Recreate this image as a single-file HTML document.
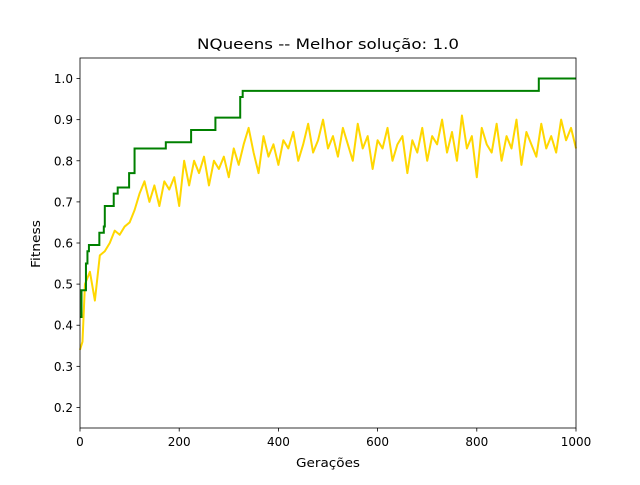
<!DOCTYPE html>
<html><head><meta charset="utf-8"><style>
body{margin:0;background:#fff;font-family:"Liberation Sans","DejaVu Sans",sans-serif}
svg text{font-family:"DejaVu Sans","Liberation Sans",sans-serif;fill:#000}
</style></head><body>
<svg id="chart" width="640" height="480" viewBox="0 0 640 480">
<rect width="640" height="480" fill="#fff"/>
<text x="328" y="49" font-size="14.4" textLength="262" lengthAdjust="spacingAndGlyphs" text-anchor="middle">NQueens -- Melhor solução: 1.0</text>
<g id="grid"></g>
<g id="series"></g>
<rect x="80" y="58" width="496" height="370" fill="none" stroke="#000" stroke-width="0.8"/>
<g id="ticks"></g>
<text x="328" y="467" font-size="12" textLength="64" lengthAdjust="spacingAndGlyphs" text-anchor="middle">Gerações</text>
<text transform="translate(40,244) rotate(-90)" font-size="12" textLength="48" lengthAdjust="spacingAndGlyphs" text-anchor="middle">Fitness</text>
</svg>
<script>
const bestGens=[0,3,12,15,18,39,48,50,68,76,99,110,173,224,273,323,328,925,1000];
const bestVals=[0.42,0.485,0.55,0.58,0.595,0.625,0.64,0.69,0.72,0.735,0.77,0.83,0.845,0.875,0.905,0.955,0.97,1.0,1.0];
const avgGens=[0,5,10,20,30,40,50,60,70,80,90,100,110,120,130,140,150,160,170,180,190,200,210,220,230,240,250,260,270,280,290,300,310,320,330,340,350,360,370,380,390,400,410,420,430,440,450,460,470,480,490,500,510,520,530,540,550,560,570,580,590,600,610,620,630,640,650,660,670,680,690,700,710,720,730,740,750,760,770,780,790,800,810,820,830,840,850,860,870,880,890,900,910,920,930,940,950,960,970,980,990,1000];
const avgVals=[0.34,0.36,0.5,0.53,0.46,0.57,0.58,0.6,0.63,0.62,0.64,0.65,0.68,0.72,0.75,0.7,0.74,0.69,0.75,0.73,0.76,0.69,0.8,0.74,0.8,0.77,0.81,0.74,0.8,0.78,0.81,0.76,0.83,0.79,0.84,0.88,0.82,0.77,0.86,0.81,0.84,0.79,0.85,0.83,0.87,0.8,0.84,0.89,0.82,0.85,0.9,0.83,0.86,0.81,0.88,0.84,0.8,0.89,0.83,0.86,0.78,0.85,0.83,0.88,0.8,0.84,0.86,0.77,0.85,0.82,0.88,0.8,0.86,0.84,0.9,0.82,0.87,0.8,0.91,0.83,0.86,0.76,0.88,0.84,0.82,0.89,0.8,0.86,0.83,0.9,0.79,0.87,0.84,0.81,0.89,0.83,0.86,0.82,0.9,0.85,0.88,0.83];
const xTicks=[0,200,400,600,800,1000];
const yTicks=[0.2,0.3,0.4,0.5,0.6,0.7,0.8,0.9,1.0];
const NS='http://www.w3.org/2000/svg';
const X=v=>80+v/1000*496;
const Y=v=>428-(v-0.15)/0.9*370;
const ser=document.getElementById('series'),tk=document.getElementById('ticks');
function mk(t,a,p){const e=document.createElementNS(NS,t);for(const k in a)e.setAttribute(k,a[k]);p.appendChild(e);return e;}
let d='M'+X(avgGens[0])+','+Y(avgVals[0]);
for(let i=1;i<avgGens.length;i++)d+='L'+X(avgGens[i])+','+Y(avgVals[i]);
const avg=mk('path',{d:d,fill:'none',stroke:'#ffd700','stroke-width':2,'stroke-linejoin':'round'},ser);


let s='M'+X(bestGens[0])+','+Y(bestVals[0]);
for(let i=1;i<bestGens.length;i++)s+='H'+X(bestGens[i])+'V'+Y(bestVals[i]);
const best=mk('path',{d:s,fill:'none',stroke:'#008000','stroke-width':2},ser);


xTicks.forEach(v=>{
 const l=mk('line',{x1:X(v),x2:X(v),y1:428,y2:431.5,stroke:'#000','stroke-width':0.8},tk);
 
 
 const t=mk('text',{x:X(v),y:446,'font-size':12,'text-anchor':'middle'},tk);t.textContent=v;
 
 
});
yTicks.forEach(v=>{
 const l=mk('line',{x1:76.5,x2:80,y1:Y(v),y2:Y(v),stroke:'#000','stroke-width':0.8},tk);
 
 
 const t=mk('text',{x:73,y:Y(v)+4.5,'font-size':12,'text-anchor':'end'},tk);t.textContent=v.toFixed(1);
 
 
});
</script>
</body></html>
